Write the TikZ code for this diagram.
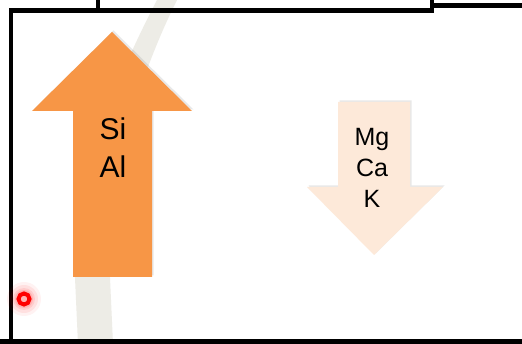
\documentclass[tikz,border=0pt]{standalone}
\usepackage{fontspec}
\setmainfont{Liberation Sans}
\usetikzlibrary{shadows}
\definecolor{orng}{HTML}{F79646}
\definecolor{peach}{HTML}{FDE9D9}
\definecolor{band}{HTML}{EDECE6}
\definecolor{rring}{HTML}{FF0000}
\tikzset{
  frame/.style={line width=4.2pt, black},
  arrowshape/.style={drop shadow={opacity=0.18, shadow xshift=1.5pt, shadow yshift=1.5pt}},
  lbl/.style={align=center, text=black, inner sep=0pt}
}
\begin{document}
\begin{tikzpicture}[x=1pt,y=-1pt]
\useasboundingbox (0,0) rectangle (522,344);
\fill[white] (0,0) rectangle (522,344);
% grey band
\fill[band] (157,0) .. controls (110,90) and (68,200) .. (75,278) -- (78,344)
  -- (113,344) -- (110,278) .. controls (104,200) and (132,90) .. (177,0) -- cycle;
% frame
\draw[frame] (11,344) -- (11,10.5) -- (98,10.5);
\draw[frame] (98,0) -- (98,10.5) -- (432,10.5) -- (432,0);
\draw[frame] (432,5.5) -- (522,5.5);
\draw[frame] (0,341.5) -- (522,341.5);
% orange up arrow
\fill[orng, arrowshape] (73,277) -- (73,111) -- (32,111) -- (112,32) -- (192,111)
  -- (152,111) -- (152,277) -- cycle;
\node[lbl, font=\fontsize{30}{38}\selectfont] (siAl) at (113,148) {Si\\Al};
% peach down arrow
\fill[peach, arrowshape] (338,102) -- (410,102) -- (410,187) -- (443,187) -- (374,255)
  -- (307,187) -- (338,187) -- cycle;
\node[lbl, font=\fontsize{25}{31}\selectfont] (mgCaK) at (372,168) {Mg\\Ca\\K};
% red marker
\foreach \r/\o in {17/0.05,14/0.07,11/0.09,9/0.12} {
  \fill[rring, opacity=\o] (24,299) circle (\r);
}
\draw[rring, line width=4pt] (24,299) circle (5.5);
\end{tikzpicture}
\end{document}
